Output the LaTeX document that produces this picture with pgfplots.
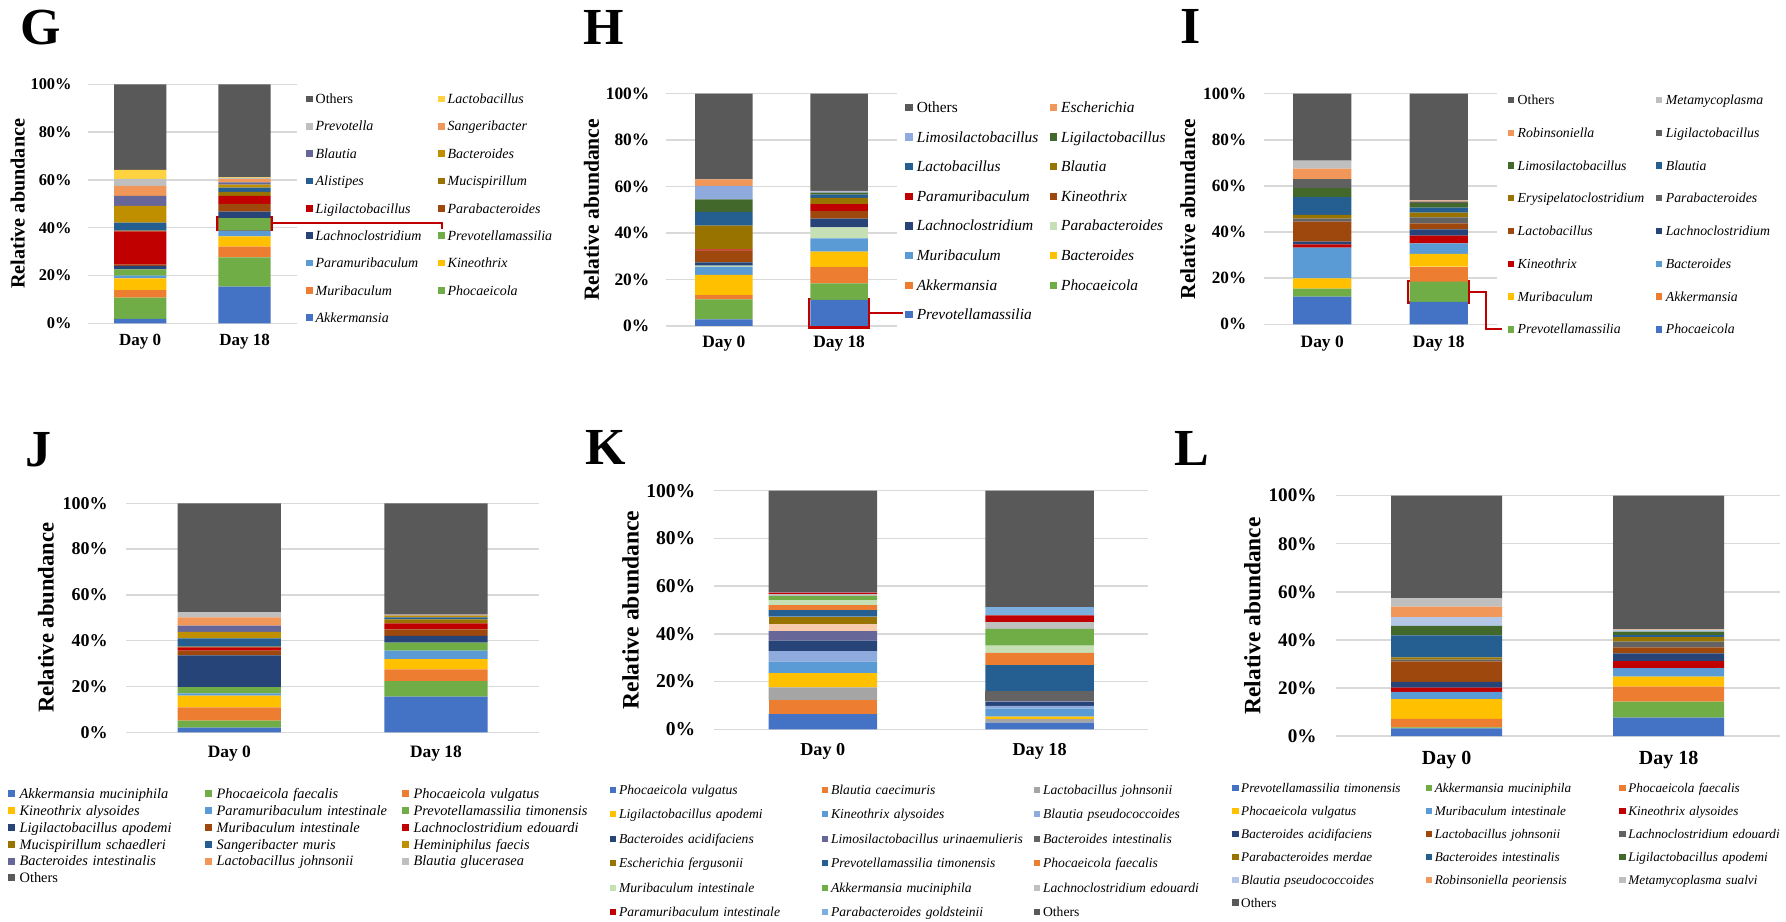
\documentclass[border=0pt]{standalone}
\usepackage{fontspec}
\setmainfont{Liberation Serif}
\usepackage{pgfplots}
\pgfplotsset{compat=1.18}

\definecolor{cBlue}{HTML}{4472C4}
\definecolor{cGreen}{HTML}{70AD47}
\definecolor{cOrange}{HTML}{ED7D31}
\definecolor{cYellow}{HTML}{FFC000}
\definecolor{cLBlue}{HTML}{5B9BD5}
\definecolor{cNavy}{HTML}{264478}
\definecolor{cBrown}{HTML}{9E480E}
\definecolor{cRed}{HTML}{C00000}
\definecolor{cDGold}{HTML}{997300}
\definecolor{cDBlue}{HTML}{255E91}
\definecolor{cGold}{HTML}{BF8F00}
\definecolor{cPurple}{HTML}{666699}
\definecolor{cLOrange}{HTML}{F1975A}
\definecolor{cLGray}{HTML}{BFBFBF}
\definecolor{cLYellow}{HTML}{FFD33F}
\definecolor{cOthers}{HTML}{595959}
\definecolor{cGray}{HTML}{A5A5A5}
\definecolor{cLav}{HTML}{8FAADC}
\definecolor{cLLav}{HTML}{B4C7E7}
\definecolor{cDGreen}{HTML}{43682B}
\definecolor{cLGreen}{HTML}{C5E0B4}
\definecolor{cDGray}{HTML}{636363}
\definecolor{cMGray}{HTML}{606060}
\definecolor{cPeach}{HTML}{F8CBAD}
\definecolor{cLBlue2}{HTML}{7CAFDD}
\definecolor{cGrid}{HTML}{D9D9D9}
\definecolor{cBox}{HTML}{C00000}

\newcommand{\fs}[1]{\fontsize{#1}{#1}\selectfont}
\def\sqw{3pt}\def\sqlo{0.5pt}\def\sqhi{3.5pt}\def\sqgap{4pt}

\pgfplotsset{
  sqleg/.style={legend image code/.code={\fill[##1,draw=none] (0pt,\sqlo) rectangle (\sqw,\sqhi); \path (\sqgap,0pt);}},
  panel/.style={
    scale only axis, anchor=south west,
    ybar stacked, bar width=0.5,
    xmin=-0.5, xmax=1.5, ymin=0, ymax=100,
    xtick={0,1}, xticklabels={Day 0,Day 18},
    ytick={0,20,40,60,80,100},
    yticklabel={\pgfmathprintnumber[assume math mode=true]{\tick}\%},
    ymajorgrids, grid style={draw=cGrid, line width=0.7pt},
    axis line style={draw=none}, major tick length=0pt, tick style={draw=none},
    clip=false,
    ylabel={Relative abundance},
    every axis y label/.style={rotate=90, anchor=center},
    yticklabel style={anchor=east, inner sep=0pt},
    xticklabel style={anchor=center, inner sep=0pt},
    legend style={anchor=north west, draw=none, fill=none, inner sep=0pt, outer sep=0pt,
      column sep=0pt, cells={anchor=base west},
      nodes={inner sep=0pt, outer sep=0pt, text depth=0pt, align=left}},
    sqleg,
  },
}

\begin{document}
\begin{tikzpicture}
\useasboundingbox (0pt,0pt) rectangle (893pt,460.5pt);

% ---------------- G ----------------
\def\sqw{3.4pt}\def\sqlo{0.61pt}\def\sqhi{4.01pt}\def\sqgap{4.75pt}
\begin{axis}[panel, at={(44pt,298.85pt)}, width=104.4pt, height=119.5pt,
  yticklabel style={font=\fs{8.2}\bfseries, xshift=-8pt},
  xticklabel style={font=\fs{8.5}\bfseries, yshift=-9.2pt},
  ylabel style={font=\fs{10.1}\bfseries, at={(axis description cs:-0.3367,0.5)}},
  legend columns=2, reverse legend,
  legend style={at={(1.0450,0.9577)}, row sep=9.05pt, font=\fs{7}\itshape,
    nodes={text width=61.25pt, text height=4.62pt}},
]
\addplot[fill=cBlue,draw=none] coordinates {(0,1.8) (1,15.3)};
\addplot[fill=cGreen,draw=none] coordinates {(0,8.9) (1,12.3)};
\addplot[fill=cOrange,draw=none] coordinates {(0,3.2) (1,4.5)};
\addplot[fill=cYellow,draw=none] coordinates {(0,4.9) (1,4.3)};
\addplot[fill=cLBlue,draw=none] coordinates {(0,1.1) (1,2.4)};
\addplot[fill=cGreen,draw=none] coordinates {(0,2.7) (1,5.2)};
\addplot[fill=cNavy,draw=none] coordinates {(0,1.4) (1,2.7)};
\addplot[fill=cBrown,draw=none] coordinates {(0,0.5) (1,3.3)};
\addplot[fill=cRed,draw=none] coordinates {(0,14.0) (1,3.3)};
\addplot[fill=cDGold,draw=none] coordinates {(0,0.3) (1,1.7)};
\addplot[fill=cDBlue,draw=none] coordinates {(0,3.3) (1,1.8)};
\addplot[fill=cGold,draw=none] coordinates {(0,7.0) (1,1.2)};
\addplot[fill=cPurple,draw=none] coordinates {(0,4.2) (1,1.0)};
\addplot[fill=cLOrange,draw=none] coordinates {(0,4.2) (1,1.3)};
\addplot[fill=cLGray,draw=none] coordinates {(0,2.9) (1,0.4)};
\addplot[fill=cLYellow,draw=none] coordinates {(0,3.8) (1,0.4)};
\addplot[fill=cOthers,draw=none] coordinates {(0,35.8) (1,38.9)};
\legend{Akkermansia,Phocaeicola,Muribaculum,Kineothrix,Paramuribaculum,Prevotellamassilia,Lachnoclostridium,Parabacteroides,Ligilactobacillus,Mucispirillum,Alistipes,Bacteroides,Blautia,Sangeribacter,Prevotella,Lactobacillus,{\upshape Others}}
\draw[cBox, line width=1.3pt] (axis cs:0.7395,39.04) rectangle (axis cs:1.2596,44.35);
\draw[cBox, line width=1.1pt] (axis cs:1.2596,41.84) -- (axis cs:2.891,41.84) -- (axis cs:2.891,39.46);
\end{axis}

% ---------------- H ----------------
\def\sqw{3.6pt}\def\sqlo{0.74pt}\def\sqhi{4.34pt}\def\sqgap{5.75pt}
\begin{axis}[panel, at={(333.15pt,297.5pt)}, width=115.2pt, height=116.15pt,
  yticklabel style={font=\fs{8.7}\bfseries, xshift=-8.3pt},
  xticklabel style={font=\fs{8.7}\bfseries, yshift=-9pt},
  ylabel style={font=\fs{10.8}\bfseries, at={(axis description cs:-0.3247,0.5)}},
  legend columns=2, reverse legend,
  legend style={at={(1.0373,0.9634)}, row sep=9.75pt, font=\fs{7.7}\itshape,
    nodes={text width=66.4pt, text height=5.08pt}},
]
\addplot[fill=cBlue,draw=none] coordinates {(0,2.9) (1,11.2)};
\addplot[fill=cGreen,draw=none] coordinates {(0,8.6) (1,7.2)};
\addplot[fill=cOrange,draw=none] coordinates {(0,1.8) (1,6.9)};
\addplot[fill=cYellow,draw=none] coordinates {(0,8.7) (1,6.7)};
\addplot[fill=cLBlue,draw=none] coordinates {(0,3.5) (1,5.7)};
\addplot[fill=cLGreen,draw=none] coordinates {(0,0.5) (1,4.8)};
\addplot[fill=cNavy,draw=none] coordinates {(0,1.4) (1,3.7)};
\addplot[fill=cBrown,draw=none] coordinates {(0,5.0) (1,3.3)};
\addplot[fill=cRed,draw=none] coordinates {(0,0.6) (1,3.0)};
\addplot[fill=cDGold,draw=none] coordinates {(0,10.2) (1,2.6)};
\addplot[fill=cDBlue,draw=none] coordinates {(0,5.9) (1,1.4)};
\addplot[fill=cDGreen,draw=none] coordinates {(0,5.4) (1,0.9)};
\addplot[fill=cLav,draw=none] coordinates {(0,5.8) (1,0.6)};
\addplot[fill=cLOrange,draw=none] coordinates {(0,2.8) (1,0.2)};
\addplot[fill=cOthers,draw=none] coordinates {(0,36.9) (1,41.8)};
\legend{Prevotellamassilia,Phocaeicola,Akkermansia,Bacteroides,Muribaculum,Parabacteroides,Lachnoclostridium,Kineothrix,Paramuribaculum,Blautia,Lactobacillus,Ligilactobacillus,Limosilactobacillus,Escherichia,{\upshape Others}}
\draw[cBox, line width=1.3pt] (axis cs:0.7378,-0.56) rectangle (axis cs:1.256,11.62);
\draw[cBox, line width=1.1pt] (axis cs:1.256,5.47) -- (axis cs:1.558,5.47);
\end{axis}

% ---------------- I ----------------
\def\sqw{3.2pt}\def\sqlo{0.68pt}\def\sqhi{3.88pt}\def\sqgap{4.9pt}
\begin{axis}[panel, at={(631.95pt,298.35pt)}, width=116.6pt, height=115.3pt,
  yticklabel style={font=\fs{8.6}\bfseries, xshift=-8.65pt},
  xticklabel style={font=\fs{8.7}\bfseries, yshift=-9.85pt},
  ylabel style={font=\fs{10.7}\bfseries, at={(axis description cs:-0.3268,0.5)}},
  legend columns=2, reverse legend,
  legend style={at={(1.0463,0.9924)}, row sep=11.83pt, font=\fs{6.9}\itshape,
    nodes={text width=69.15pt, text height=4.55pt}},
]
\addplot[fill=cBlue,draw=none] coordinates {(0,12.0) (1,9.7)};
\addplot[fill=cGreen,draw=none] coordinates {(0,3.5) (1,8.8)};
\addplot[fill=cOrange,draw=none] coordinates {(0,0.0) (1,6.5)};
\addplot[fill=cYellow,draw=none] coordinates {(0,4.4) (1,5.5)};
\addplot[fill=cLBlue,draw=none] coordinates {(0,13.3) (1,4.6)};
\addplot[fill=cRed,draw=none] coordinates {(0,1.5) (1,3.3)};
\addplot[fill=cNavy,draw=none] coordinates {(0,1.1) (1,2.8)};
\addplot[fill=cBrown,draw=none] coordinates {(0,8.7) (1,2.6)};
\addplot[fill=cDGray,draw=none] coordinates {(0,1.3) (1,2.6)};
\addplot[fill=cDGold,draw=none] coordinates {(0,1.6) (1,2.0)};
\addplot[fill=cDBlue,draw=none] coordinates {(0,7.8) (1,2.2)};
\addplot[fill=cDGreen,draw=none] coordinates {(0,3.8) (1,1.9)};
\addplot[fill=cMGray,draw=none] coordinates {(0,4.0) (1,0.7)};
\addplot[fill=cLOrange,draw=none] coordinates {(0,4.5) (1,0.4)};
\addplot[fill=cLGray,draw=none] coordinates {(0,3.5) (1,0.2)};
\addplot[fill=cOthers,draw=none] coordinates {(0,29.0) (1,46.2)};
\legend{Phocaeicola,Prevotellamassilia,Akkermansia,Muribaculum,Bacteroides,Kineothrix,Lachnoclostridium,Lactobacillus,Parabacteroides,Erysipelatoclostridium,Blautia,Limosilactobacillus,Ligilactobacillus,Robinsoniella,Metamycoplasma,{\upshape Others}}
\draw[cBox, line width=1.3pt] (axis cs:0.7367,9.37) rectangle (axis cs:1.2556,18.78);
\draw[cBox, line width=1.1pt] (axis cs:1.2556,14.14) -- (axis cs:1.4074,14.14) -- (axis cs:1.4074,-2.17) -- (axis cs:1.542,-2.17);
\end{axis}

% ---------------- J ----------------
\def\sqw{3.5pt}\def\sqlo{0.63pt}\def\sqhi{4.13pt}\def\sqgap{5.85pt}
\begin{axis}[panel, at={(63pt,94.35pt)}, width=206.6pt, height=114.5pt,
  yticklabel style={font=\fs{9}\bfseries, xshift=-9pt},
  xticklabel style={font=\fs{8.7}\bfseries, yshift=-10.5pt},
  ylabel style={font=\fs{11.3}\bfseries, at={(axis description cs:-0.1939,0.5)}},
  legend columns=3,
  legend style={at={(-0.2858,-0.2487)}, row sep=3.65pt, font=\fs{7.2}\itshape,
    nodes={text width=92.65pt, text height=4.75pt}},
]
\addplot[fill=cBlue,draw=none] coordinates {(0,2.0) (1,15.6)};
\addplot[fill=cGreen,draw=none] coordinates {(0,3.1) (1,6.8)};
\addplot[fill=cOrange,draw=none] coordinates {(0,5.8) (1,5.1)};
\addplot[fill=cYellow,draw=none] coordinates {(0,5.1) (1,4.4)};
\addplot[fill=cLBlue,draw=none] coordinates {(0,1.0) (1,3.8)};
\addplot[fill=cGreen,draw=none] coordinates {(0,2.7) (1,3.5)};
\addplot[fill=cNavy,draw=none] coordinates {(0,13.9) (1,2.9)};
\addplot[fill=cBrown,draw=none] coordinates {(0,2.1) (1,2.9)};
\addplot[fill=cRed,draw=none] coordinates {(0,1.4) (1,2.6)};
\addplot[fill=cDGold,draw=none] coordinates {(0,0.3) (1,1.7)};
\addplot[fill=cDBlue,draw=none] coordinates {(0,3.6) (1,0.9)};
\addplot[fill=cGold,draw=none] coordinates {(0,2.8) (1,0.7)};
\addplot[fill=cPurple,draw=none] coordinates {(0,2.8) (1,0.2)};
\addplot[fill=cLOrange,draw=none] coordinates {(0,3.6) (1,0.2)};
\addplot[fill=cLGray,draw=none] coordinates {(0,2.3) (1,0.1)};
\addplot[fill=cOthers,draw=none] coordinates {(0,47.5) (1,48.6)};
\legend{Akkermansia muciniphila,Phocaeicola faecalis,Phocaeicola vulgatus,Kineothrix alysoides,Paramuribaculum intestinale,Prevotellamassilia timonensis,Ligilactobacillus apodemi,Muribaculum intestinale,Lachnoclostridium edouardi,Mucispirillum schaedleri,Sangeribacter muris,Heminiphilus faecis,Bacteroides intestinalis,Lactobacillus johnsonii,Blautia glucerasea,{\upshape Others}}
\end{axis}

% ---------------- K ----------------
\def\sqw{3.0pt}\def\sqlo{0.74pt}\def\sqhi{3.74pt}\def\sqgap{4.75pt}
\begin{axis}[panel, at={(357.2pt,95.85pt)}, width=216.8pt, height=119.3pt,
  yticklabel style={font=\fs{9.8}\bfseries, xshift=-9.35pt},
  xticklabel style={font=\fs{9.1}\bfseries, yshift=-10.85pt},
  ylabel style={font=\fs{11.8}\bfseries, at={(axis description cs:-0.1933,0.5)}},
  legend columns=3,
  legend style={at={(-0.2417,-0.2355)}, row sep=7.74pt, font=\fs{6.8}\itshape,
    nodes={text width=101.25pt, text height=4.49pt}},
]
\addplot[fill=cBlue,draw=none] coordinates {(0,6.4) (1,2.8)};
\addplot[fill=cOrange,draw=none] coordinates {(0,5.8) (1,0.0)};
\addplot[fill=cGray,draw=none] coordinates {(0,5.4) (1,1.5)};
\addplot[fill=cYellow,draw=none] coordinates {(0,5.9) (1,1.0)};
\addplot[fill=cLBlue,draw=none] coordinates {(0,4.9) (1,3.4)};
\addplot[fill=cLav,draw=none] coordinates {(0,4.4) (1,1.1)};
\addplot[fill=cNavy,draw=none] coordinates {(0,4.4) (1,1.7)};
\addplot[fill=cPurple,draw=none] coordinates {(0,3.9) (1,0.2)};
\addplot[fill=cDGray,draw=none] coordinates {(0,0.0) (1,4.3)};
\addplot[fill=cPeach,draw=none,forget plot] coordinates {(0,3.0) (1,0.0)};
\addplot[fill=cDGold,draw=none] coordinates {(0,3.1) (1,0.0)};
\addplot[fill=cDBlue,draw=none] coordinates {(0,2.7) (1,10.9)};
\addplot[fill=cOrange,draw=none] coordinates {(0,2.1) (1,5.1)};
\addplot[fill=cLGreen,draw=none] coordinates {(0,2.1) (1,3.1)};
\addplot[fill=cGreen,draw=none] coordinates {(0,1.8) (1,7.0)};
\addplot[fill=cLGray,draw=none] coordinates {(0,0.8) (1,2.8)};
\addplot[fill=cRed,draw=none] coordinates {(0,0.6) (1,2.8)};
\addplot[fill=cLBlue2,draw=none] coordinates {(0,0.1) (1,3.5)};
\addplot[fill=cOthers,draw=none] coordinates {(0,42.6) (1,48.8)};
\legend{Phocaeicola vulgatus,Blautia caecimuris,Lactobacillus johnsonii,Ligilactobacillus apodemi,Kineothrix alysoides,Blautia pseudococcoides,Bacteroides acidifaciens,Limosilactobacillus urinaemulieris,Bacteroides intestinalis,Escherichia fergusonii,Prevotellamassilia timonensis,Phocaeicola faecalis,Muribaculum intestinale,Akkermansia muciniphila,Lachnoclostridium edouardi,Paramuribaculum intestinale,Parabacteroides goldsteinii,{\upshape Others}}
\end{axis}

% ---------------- L ----------------
\def\sqw{3.2pt}\def\sqlo{0.58pt}\def\sqhi{3.78pt}\def\sqgap{4.55pt}
\begin{axis}[panel, at={(667.8pt,92.5pt)}, width=222pt, height=120.15pt,
  yticklabel style={font=\fs{9.6}\bfseries, xshift=-9.3pt},
  xticklabel style={font=\fs{10}\bfseries, yshift=-12pt},
  ylabel style={font=\fs{11.7}\bfseries, at={(axis description cs:-0.1876,0.5)}},
  legend columns=3,
  legend style={at={(-0.2331,-0.1993)}, row sep=7.08pt, font=\fs{6.6}\itshape,
    nodes={text width=92.25pt, text height=4.36pt}},
]
\addplot[fill=cBlue,draw=none] coordinates {(0,3.2) (1,7.6)};
\addplot[fill=cGreen,draw=none] coordinates {(0,0.4) (1,6.7)};
\addplot[fill=cOrange,draw=none] coordinates {(0,3.5) (1,6.2)};
\addplot[fill=cYellow,draw=none] coordinates {(0,8.2) (1,4.2)};
\addplot[fill=cLBlue,draw=none] coordinates {(0,3.1) (1,3.5)};
\addplot[fill=cRed,draw=none] coordinates {(0,1.7) (1,3.0)};
\addplot[fill=cNavy,draw=none] coordinates {(0,2.4) (1,3.2)};
\addplot[fill=cBrown,draw=none] coordinates {(0,8.6) (1,2.5)};
\addplot[fill=cDGray,draw=none] coordinates {(0,0.7) (1,2.4)};
\addplot[fill=cDGold,draw=none] coordinates {(0,0.9) (1,1.8)};
\addplot[fill=cDBlue,draw=none] coordinates {(0,9.2) (1,0.9)};
\addplot[fill=cDGreen,draw=none] coordinates {(0,3.9) (1,1.4)};
\addplot[fill=cLLav,draw=none] coordinates {(0,3.7) (1,0.7)};
\addplot[fill=cLOrange,draw=none] coordinates {(0,4.3) (1,0.2)};
\addplot[fill=cLGray,draw=none] coordinates {(0,3.5) (1,0.2)};
\addplot[fill=cOthers,draw=none] coordinates {(0,42.7) (1,55.5)};
\legend{Prevotellamassilia timonensis,Akkermansia muciniphila,Phocaeicola faecalis,Phocaeicola vulgatus,Muribaculum intestinale,Kineothrix alysoides,Bacteroides acidifaciens,Lactobacillus johnsonii,Lachnoclostridium edouardi,Parabacteroides merdae,Bacteroides intestinalis,Ligilactobacillus apodemi,Blautia pseudococcoides,Robinsoniella peoriensis,Metamycoplasma sualvi,{\upshape Others}}
\end{axis}

% panel letters
\node[font=\fs{26}\bfseries, inner sep=0pt] at (20.55pt,446.75pt) {G};
\node[font=\fs{26}\bfseries, inner sep=0pt] at (302pt,446.75pt) {H};
\node[font=\fs{26}\bfseries, inner sep=0pt] at (595.3pt,447.15pt) {I};
\node[font=\fs{26}\bfseries, inner sep=0pt] at (19.15pt,235.5pt) {J};
\node[font=\fs{26}\bfseries, inner sep=0pt] at (302.7pt,236.75pt) {K};
\node[font=\fs{26}\bfseries, inner sep=0pt] at (596pt,236.5pt) {L};
\end{tikzpicture}
\end{document}
